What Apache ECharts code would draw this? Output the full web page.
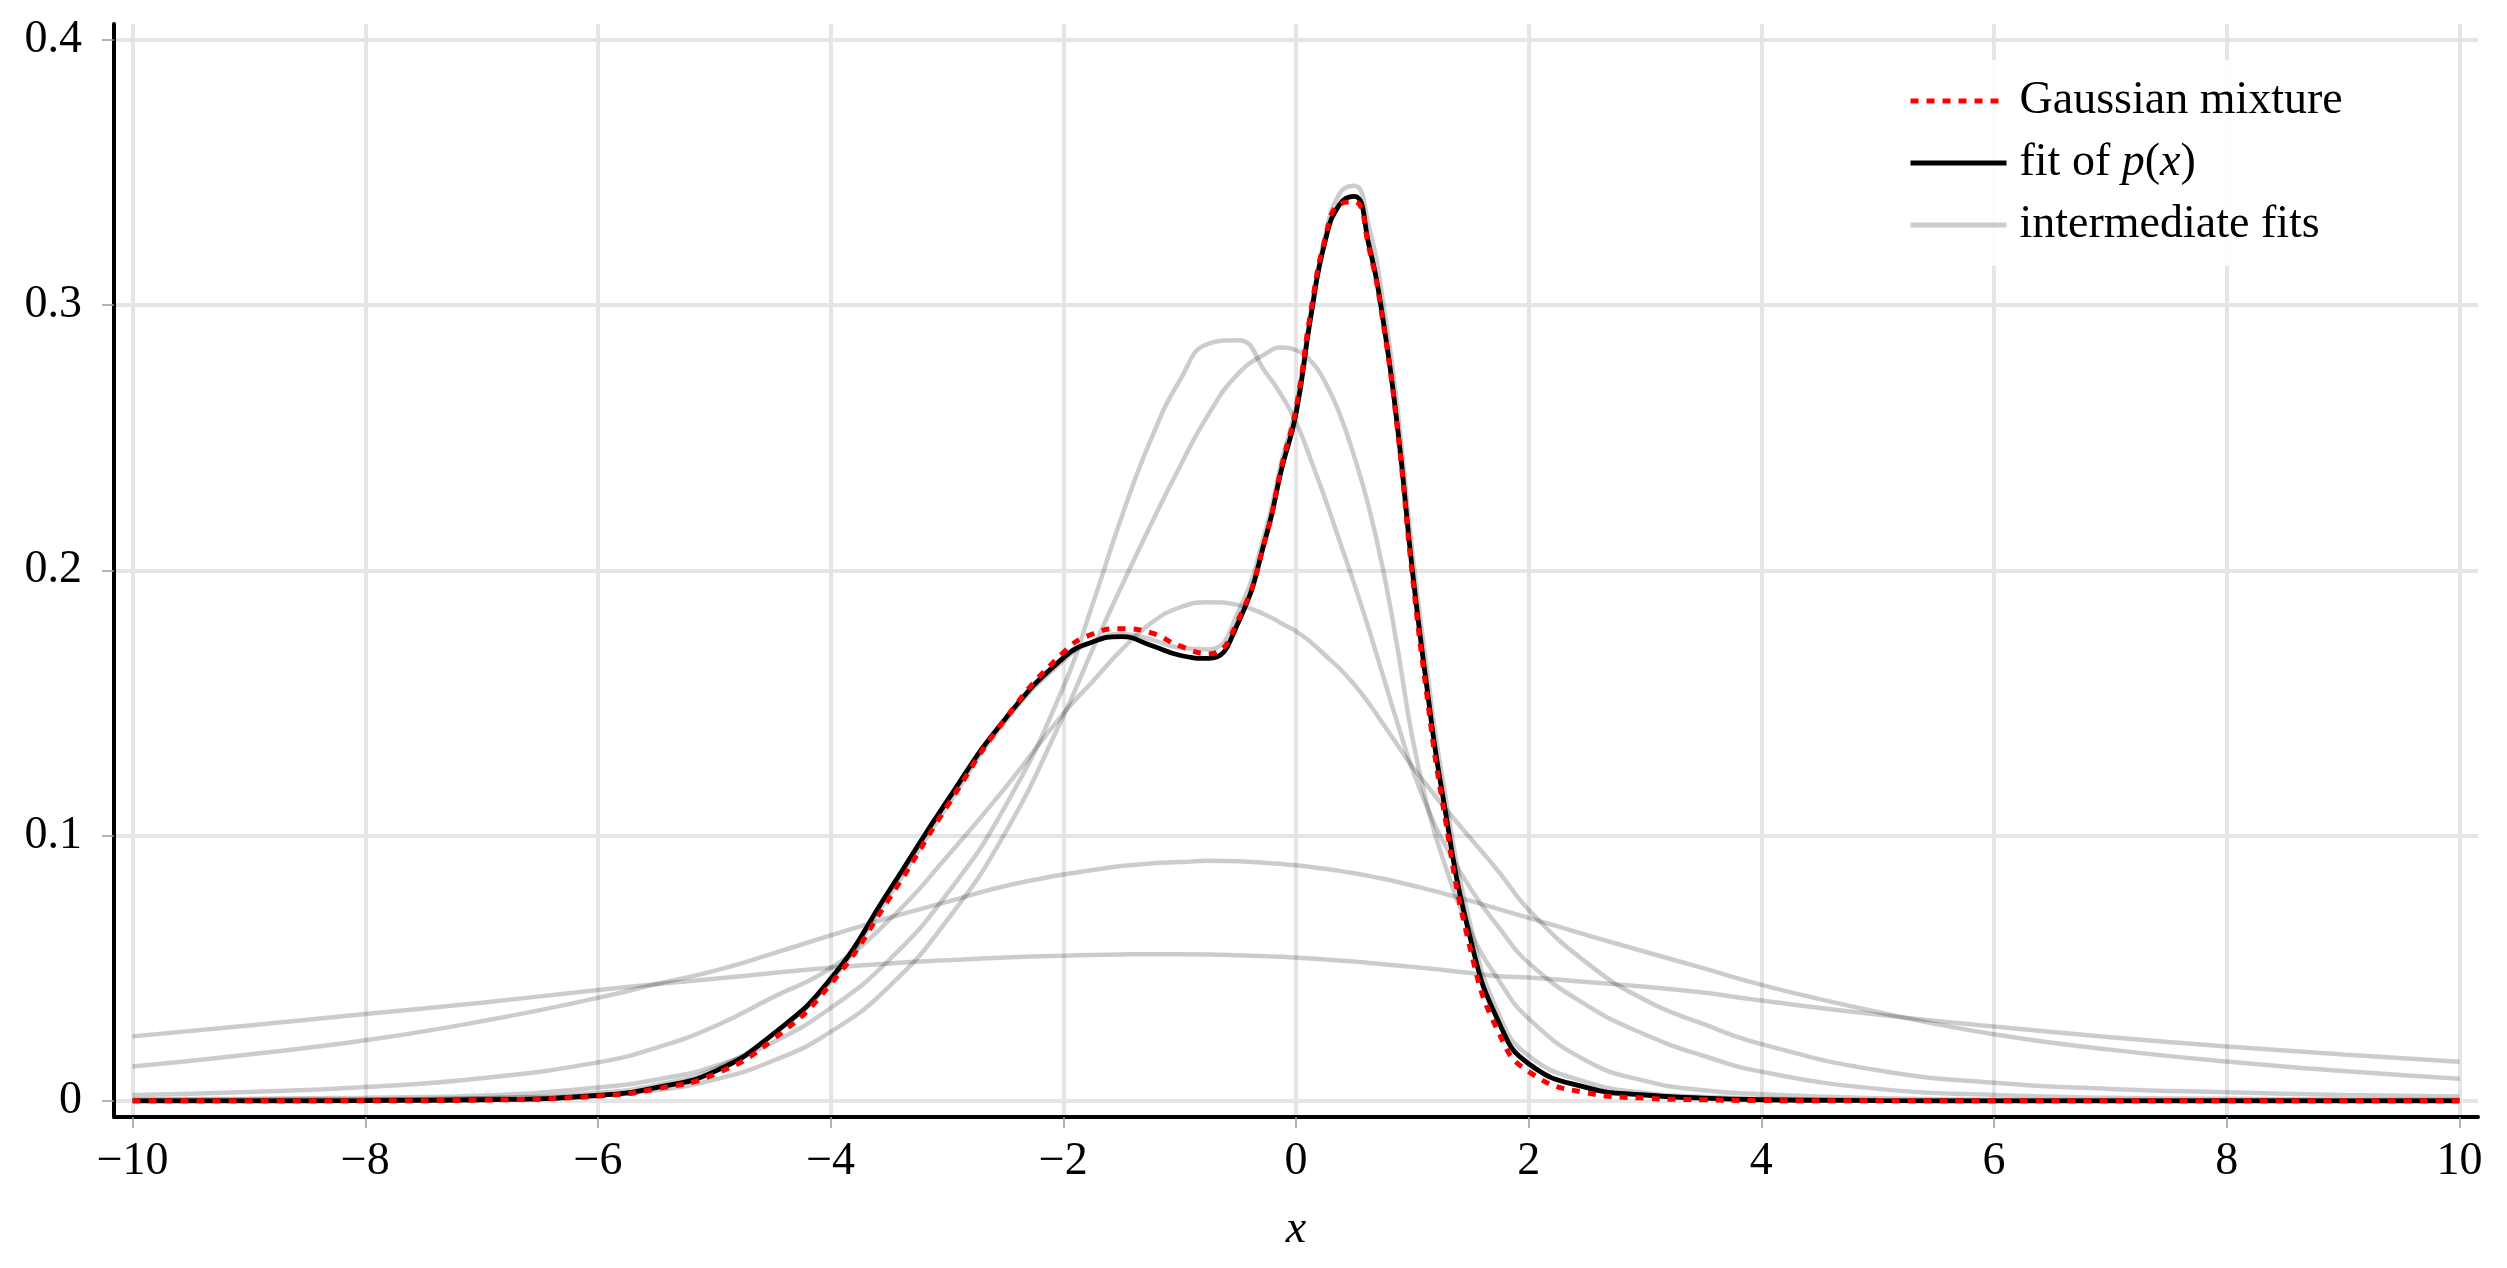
<!DOCTYPE html>
<html>
<head>
<meta charset="utf-8">
<title>Gaussian mixture fit</title>
<script src="https://cdn.jsdelivr.net/npm/echarts@6.0.0/dist/echarts.min.js"></script>
<style>
  html, body { margin: 0; padding: 0; background: #fff; }
  #chart { width: 2507px; height: 1268px; }
</style>
</head>
<body>
<div id="chart"></div>
<script>
// sample positions (finer round the peak)
var xs = [-10, -9, -8, -7, -6, -5.5, -5, -4.5, -4, -3.5, -3, -2.5, -2, -1.75, -1.5, -1.25, -1, -0.75, -0.5, -0.25, -0.125,
          0, 0.125, 0.25, 0.375, 0.5, 0.625, 0.75, 0.875, 1, 1.125, 1.25, 1.5, 1.75, 2, 2.5, 3, 3.5, 4, 5, 6, 7, 8, 9, 10];

var xTicks = [-10, -8, -6, -4, -2, 0, 2, 4, 6, 8, 10];
var yTicks = [0, 0.1, 0.2, 0.3, 0.4];

// target density (red dotted)
var mixture = [0, 0, 0, 0.0003, 0.0018, 0.0045, 0.010, 0.023, 0.044, 0.076, 0.111, 0.144, 0.169, 0.176, 0.178, 0.1765, 0.1715, 0.1685, 0.181, 0.214, 0.239,
               0.261, 0.297, 0.325, 0.338, 0.339, 0.322, 0.293, 0.252, 0.198, 0.153, 0.115, 0.057, 0.025, 0.011, 0.003, 0.001, 0.0004, 0.0001, 0, 0, 0, 0, 0, 0];

// final fit (black)
var fitP = [0, 0, 0.0001, 0.0004, 0.002, 0.005, 0.011, 0.025, 0.046, 0.079, 0.113, 0.144, 0.167, 0.173, 0.175, 0.1718, 0.168, 0.1668, 0.180, 0.214, 0.238,
            0.259, 0.295, 0.324, 0.338, 0.341, 0.323, 0.294, 0.253, 0.200, 0.156, 0.118, 0.061, 0.029, 0.014, 0.005, 0.0022, 0.001, 0.0004, 0.0001, 0, 0, 0, 0, 0];

// intermediate fits (grey), broadest first
var fit1 = [0.0243, 0.0284, 0.0327, 0.037, 0.0418, 0.044, 0.046, 0.0482, 0.0502, 0.0518, 0.053, 0.054, 0.0547, 0.055, 0.0552, 0.0553, 0.0553, 0.0552, 0.0549, 0.0545, 0.0543,
            0.054, 0.0537, 0.0533, 0.0529, 0.0525, 0.052, 0.0515, 0.051, 0.0505, 0.05, 0.0494, 0.0482, 0.047, 0.0465, 0.0448, 0.043, 0.0408, 0.0378, 0.0325, 0.028, 0.024, 0.0205, 0.0175, 0.0147];
var fit2 = [0.0129, 0.0175, 0.0228, 0.030, 0.0388, 0.044, 0.049, 0.0555, 0.0624, 0.069, 0.075, 0.081, 0.0853, 0.087, 0.0885, 0.0895, 0.090, 0.0905, 0.0903, 0.0897, 0.0893,
            0.0888, 0.0882, 0.0875, 0.0867, 0.0858, 0.0848, 0.0837, 0.0825, 0.0812, 0.0798, 0.0784, 0.0754, 0.0722, 0.069, 0.0625, 0.0562, 0.050, 0.0437, 0.0335, 0.0251, 0.0193, 0.0148, 0.0112, 0.0083];
var fit3 = [0.0022, 0.0033, 0.0052, 0.0085, 0.0145, 0.020, 0.028, 0.039, 0.050, 0.068, 0.092, 0.118, 0.146, 0.158, 0.170, 0.180, 0.186, 0.188, 0.187, 0.183, 0.180,
            0.177, 0.173, 0.168, 0.163, 0.157, 0.150, 0.142, 0.134, 0.126, 0.119, 0.112, 0.099, 0.086, 0.072, 0.052, 0.038, 0.029, 0.0214, 0.0115, 0.0068, 0.0045, 0.0032, 0.0022, 0.0016];
var fit4 = [0.0006, 0.0008, 0.0012, 0.002, 0.005, 0.008, 0.013, 0.022, 0.035, 0.053, 0.078, 0.111, 0.156, 0.187, 0.220, 0.249, 0.2715, 0.2855, 0.2868, 0.274, 0.266,
            0.256, 0.242, 0.227, 0.211, 0.195, 0.178, 0.160, 0.142, 0.125, 0.111, 0.099, 0.080, 0.065, 0.052, 0.036, 0.025, 0.017, 0.011, 0.0045, 0.0022, 0.0012, 0.0008, 0.0005, 0.0004];
var fit5 = [0.0003, 0.0004, 0.0006, 0.001, 0.002, 0.004, 0.008, 0.015, 0.026, 0.043, 0.068, 0.101, 0.145, 0.170, 0.194, 0.217, 0.239, 0.259, 0.274, 0.282, 0.284,
            0.283, 0.279, 0.271, 0.259, 0.243, 0.224, 0.200, 0.170, 0.137, 0.112, 0.093, 0.064, 0.045, 0.031, 0.015, 0.0075, 0.004, 0.0025, 0.001, 0.0004, 0.0003, 0.0002, 0.0002, 0.0001];
var fit6 = [0.0002, 0.0003, 0.0005, 0.001, 0.003, 0.006, 0.012, 0.025, 0.045, 0.077, 0.111, 0.143, 0.166, 0.173, 0.176, 0.174, 0.1708, 0.1702, 0.184, 0.217, 0.241,
            0.262, 0.297, 0.326, 0.342, 0.345, 0.330, 0.301, 0.260, 0.207, 0.163, 0.124, 0.066, 0.032, 0.017, 0.007, 0.003, 0.0015, 0.0008, 0.0003, 0.0002, 0.0001, 0.0001, 0.0001, 0.0001];
var intermediate = [fit1, fit2, fit3, fit4, fit5, fit6];

var serif = 'Liberation Serif';

function pairs(ys) {
  return xs.map(function (x, i) { return [x, ys[i]]; });
}
function minus(v) {
  return v < 0 ? '\u2212' + Math.abs(v) : String(v);
}

var chart = echarts.init(document.getElementById('chart'));

var series = intermediate.map(function (ys) {
  return {
    name: 'intermediate fits',
    type: 'line',
    data: pairs(ys),
    smooth: 0.5,
    symbol: 'none',
    lineStyle: { color: 'rgba(0,0,0,0.2)', width: 4.5 },
    itemStyle: { color: 'rgba(0,0,0,0.2)' },
    silent: true
  };
});
series.push({
  name: 'fit of p(x)',
  type: 'line',
  data: pairs(fitP),
  smooth: 0.5,
  symbol: 'none',
  lineStyle: { color: '#000', width: 4.8 },
  itemStyle: { color: '#000' }
});
series.push({
  name: 'Gaussian mixture',
  type: 'line',
  data: pairs(mixture),
  smooth: 0.5,
  symbol: 'none',
  lineStyle: { color: '#ff0000', width: 5, type: [8, 8] },
  itemStyle: { color: '#ff0000' }
});

var option = {
  backgroundColor: '#fff',
  animation: false,
  grid: { left: 114, right: 29, top: 24, bottom: 151, containLabel: false, outerBoundsMode: 'none' },
  legend: {
    data: ['Gaussian mixture', 'fit of p(x)', 'intermediate fits'],
    orient: 'vertical',
    left: 1890,
    top: 60,
    padding: [17, 24, 17, 18],
    itemWidth: 96,
    itemHeight: 14,
    itemGap: 14,
    backgroundColor: 'rgba(255,255,255,0.9)',
    lineStyle: { width: 5 },
    itemStyle: { opacity: 0 },
    selectedMode: false,
    textStyle: {
      fontFamily: serif,
      fontSize: 46,
      lineHeight: 48,
      color: '#000',
      padding: [0, 0, 0, 8],
      rich: { m: { fontFamily: serif, fontSize: 46, fontStyle: 'italic', color: '#000' } }
    },
    formatter: function (name) {
      return name === 'fit of p(x)' ? 'fit of {m|p}({m|x})' : name;
    }
  },
  xAxis: {
    type: 'value',
    min: -10.16,
    max: 10.16,
    name: 'x',
    nameLocation: 'middle',
    nameGap: 90,
    nameTextStyle: { fontFamily: serif, fontSize: 46, fontStyle: 'italic', color: '#000' },
    axisLine: { show: true, onZero: false, lineStyle: { color: '#000', width: 4 } },
    axisTick: { show: true, customValues: xTicks, length: 11, lineStyle: { color: '#999', width: 1.5 } },
    axisLabel: { customValues: xTicks, margin: 22, fontFamily: serif, fontSize: 46, color: '#000', formatter: minus },
    splitLine: { show: true, lineStyle: { color: '#e5e5e5', width: 4 } }
  },
  yAxis: {
    type: 'value',
    min: -0.0061,
    max: 0.406,
    axisLine: { show: true, onZero: false, lineStyle: { color: '#000', width: 4 } },
    axisTick: { show: true, customValues: yTicks, length: 12, lineStyle: { color: '#999', width: 1.5 } },
    axisLabel: { customValues: yTicks, margin: 32, fontFamily: serif, fontSize: 46, color: '#000', formatter: minus },
    splitLine: { show: true, lineStyle: { color: '#e5e5e5', width: 4 } }
  },
  series: series
};

chart.setOption(option);
</script>
</body>
</html>
